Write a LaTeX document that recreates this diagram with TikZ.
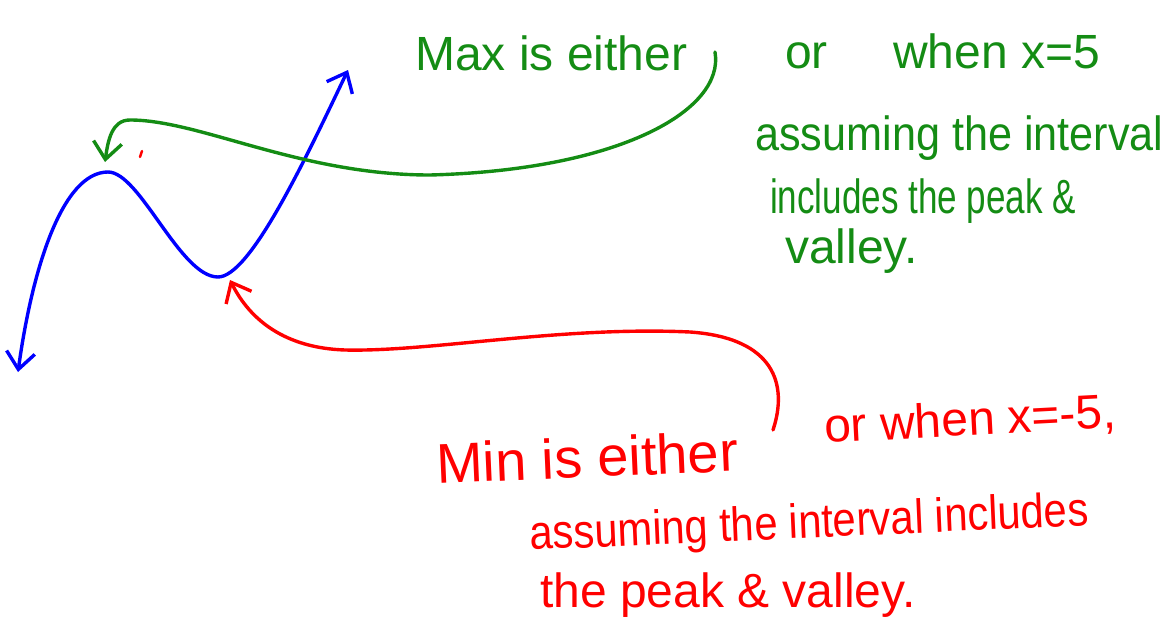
\documentclass[tikz,border=0pt]{standalone}
\usepackage{fontspec}
\setmainfont{Liberation Sans}
\usetikzlibrary{arrows.meta}
\definecolor{penblue}{RGB}{0,0,255}
\definecolor{pengreen}{RGB}{20,140,20}
\definecolor{penred}{RGB}{255,0,0}

\begin{document}
\begin{tikzpicture}[x=1pt,y=-1pt,>={Straight Barb[length=6mm,width=10mm]},line cap=round,line join=round,
  pen/.style={line width=3.4pt},
  hand/.style={inner sep=0pt,anchor=base west,font=\fontsize{48}{56}\selectfont}]
\useasboundingbox (0,0) rectangle (1168,621);

% the cubic
\coordinate (lowend) at (18,372);
\coordinate (peak) at (108,172);
\coordinate (valley) at (218,277);
\coordinate (highend) at (348,70);
\draw[pen,penblue,<->] (lowend) .. controls (32,270) and (62,172) .. (peak)
  .. controls (140,172) and (180,277) .. (valley)
  .. controls (250,277) and (305,160) .. (highend);
\draw[penred,line width=2.4pt] (140,157) -- (142,151);

% max note
\node[hand,pengreen] (maxA) at (415,70) {Max is either};
\node[hand,pengreen] (maxB) at (785,68) {or};
\node[hand,pengreen] (maxC) at (893,68) {when x=5};
\node[hand,pengreen,xscale=.9] (maxD) at (755,150) {assuming the interval};
\node[hand,pengreen,xscale=.73] (maxE) at (770,213) {includes the peak \&};
\node[hand,pengreen] (maxF) at (785,263) {valley.};
\coordinate (maxhook) at (715,52);
\coordinate (maxpoint) at (105,162);
\draw[pen,pengreen,->] (maxhook) .. controls (725,110) and (620,170) .. (430,175)
  .. controls (300,175) and (200,120) .. (130,120)
  .. controls (112,120) and (108,140) .. (maxpoint);

% min note
\node[hand,penred,rotate=2.5,font=\fontsize{56}{64}\selectfont] (minA) at (437,484) {Min is either};
\node[hand,penred,rotate=3] (minB) at (825,443) {or when x=-5,};
\node[hand,penred,rotate=2.5,xscale=.87] (minC) at (530,550) {assuming the interval includes};
\node[hand,penred] (minD) at (540,607) {the peak \& valley.};
\coordinate (minhook) at (773,430);
\coordinate (minpoint) at (230,280);
\draw[pen,penred,->] (minhook) .. controls (788,385) and (775,338) .. (690,332)
  .. controls (560,326) and (430,352) .. (345,350)
  .. controls (285,348) and (250,320) .. (minpoint);
\end{tikzpicture}
\end{document}
